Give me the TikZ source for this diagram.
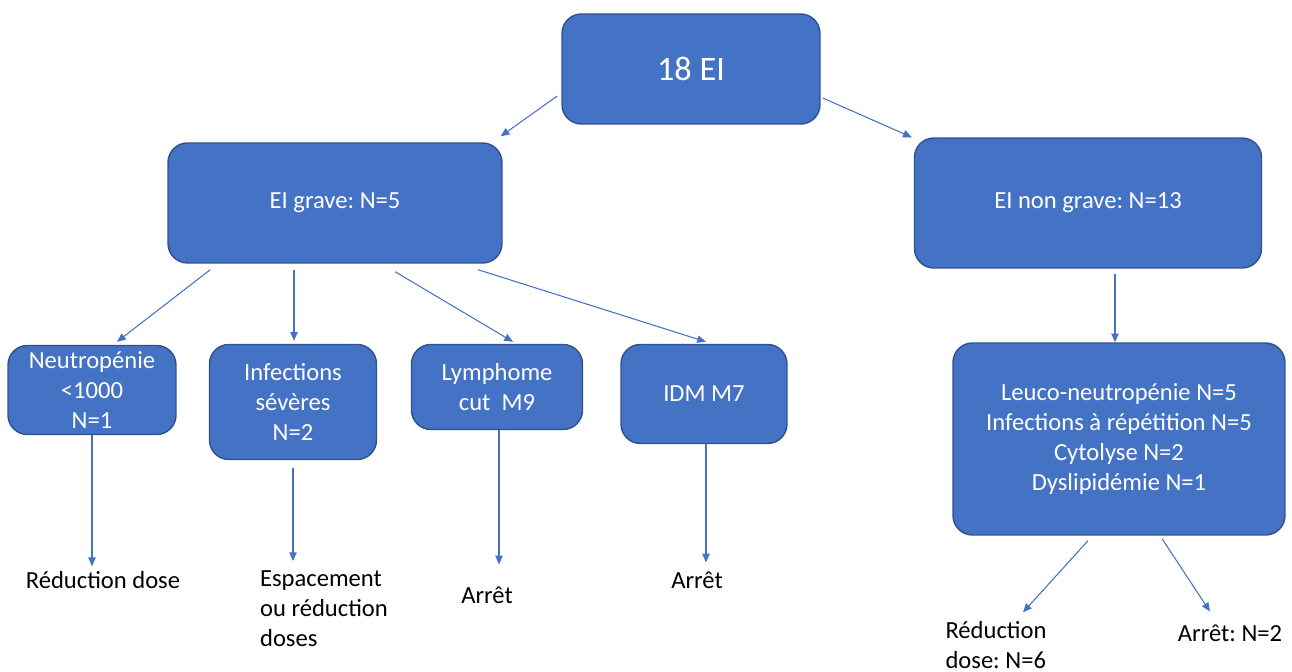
\documentclass[tikz,border=0pt]{standalone}
\usepackage{fontspec}
\setmainfont{Carlito}
\frenchspacing
\usetikzlibrary{calc,arrows.meta}
\definecolor{eiblue}{HTML}{4472C4}
\definecolor{eiedge}{HTML}{2F528F}
\tikzset{
  eibox/.style={draw=eiedge, line width=0.8pt, fill=eiblue, rounded corners=11pt,
    text=white, align=center, inner sep=0pt,
    font=\fontsize{14}{17}\selectfont},
  eilabel/.style={text=black, inner sep=1pt, font=\fontsize{14}{17}\selectfont},
  eiarrow/.style={draw=eiblue, line width=0.6pt, -{Triangle[length=5pt,width=4.2pt]}}
}

\begin{document}
\begin{tikzpicture}[x=0.02cm, y=-0.02cm]
			%%%%% START %%%%%
			\useasboundingbox (0, 0) rectangle (1292, 672);
			
			\node[eibox, minimum width=5.16cm, minimum height=2.2cm, font=\fontsize{19.5}{24}\selectfont] (total) at (691, 69) {18 EI};
			
			\node[eibox, minimum width=6.68cm, minimum height=2.4cm] (grave) at (335, 203) {EI grave: N=5};
			\node[eibox, minimum width=6.94cm, minimum height=2.6cm] (nongrave) at (1088, 203) {EI non grave: N=13};
			
			\node[eibox, minimum width=3.36cm, minimum height=1.78cm] (neutro) at (92, 390) {Neutropénie\\<1000\\N=1};
			\node[eibox, minimum width=3.34cm, minimum height=2.3cm] (infect) at (293, 402) {Infections\\sévères\\N=2};
			\node[eibox, minimum width=3.42cm, minimum height=1.7cm] (lymph) at (497, 387) {Lymphome\\cut~~M9};
			\node[eibox, minimum width=3.32cm, minimum height=1.98cm] (idm) at (704, 394) {IDM M7};
			\node[eibox, minimum width=6.64cm, minimum height=3.84cm] (leuco) at (1119, 439) {Leuco-neutropénie N=5\\Infections à répétition N=5\\Cytolyse N=2\\Dyslipidémie N=1};
			
			\node[eilabel] (redA) at (103, 580) {Réduction dose};
			\node[eilabel, align=left] (espac) at (324, 609) {Espacement\\ou réduction\\doses};
			\node[eilabel] (arretA) at (487, 595) {Arrêt};
			\node[eilabel] (arretB) at (697, 580) {Arrêt};
			\node[eilabel, align=left] (redB) at (996, 645) {Réduction\\dose: N=6};
			\node[eilabel] (arretC) at (1230, 633) {Arrêt: N=2};
			
			\draw[eiarrow] ($(total.west)+(-4, 27)$) -- ($(grave.north east)+(-2, -6)$);
			\draw[eiarrow] ($(total.east)+(2, 29)$) -- ($(nongrave.north west)+(-2, 0)$);
			
			\draw[eiarrow] ($(grave.south west)+(43, 6)$) -- ($(neutro.north)+(25, -3)$);
			\draw[eiarrow] ($(grave.south)+(-41, 6)$) -- ($(infect.north)+(1, -3)$);
			\draw[eiarrow] ($(grave.south)+(60, 8)$) -- ($(lymph.north)+(16, -2)$);
			\draw[eiarrow] ($(grave.south)+(143, 6)$) -- ($(idm.north)+(2, -2)$);
			\draw[eiarrow] ($(nongrave.south)+(27, 5)$) -- ($(leuco.north)+(-4, 0)$);
			
			\draw[eiarrow] (neutro.south) -- ($(neutro.south |- redA.north)+(0, -3)$);
			\draw[eiarrow] ($(infect.south)+(0, 8)$) -- ($(infect.south |- espac.north)+(0, -8)$);
			\draw[eiarrow] ($(lymph.south)+(2, 0)$) -- ($(lymph.south |- arretA.north)+(2, -20)$);
			\draw[eiarrow] ($(idm.south)+(2, 0)$) -- ($(idm.south |- arretB.north)+(2, -7)$);
			
			\draw[eiarrow] ($(leuco.south)+(-31, 5)$) -- ($(redB.north)+(27, -7)$);
			\draw[eiarrow] ($(leuco.south)+(43, 3)$) -- ($(arretC.north)+(-20, -11)$);
			
			%%%%% END %%%%%
\end{tikzpicture}
\end{document}
